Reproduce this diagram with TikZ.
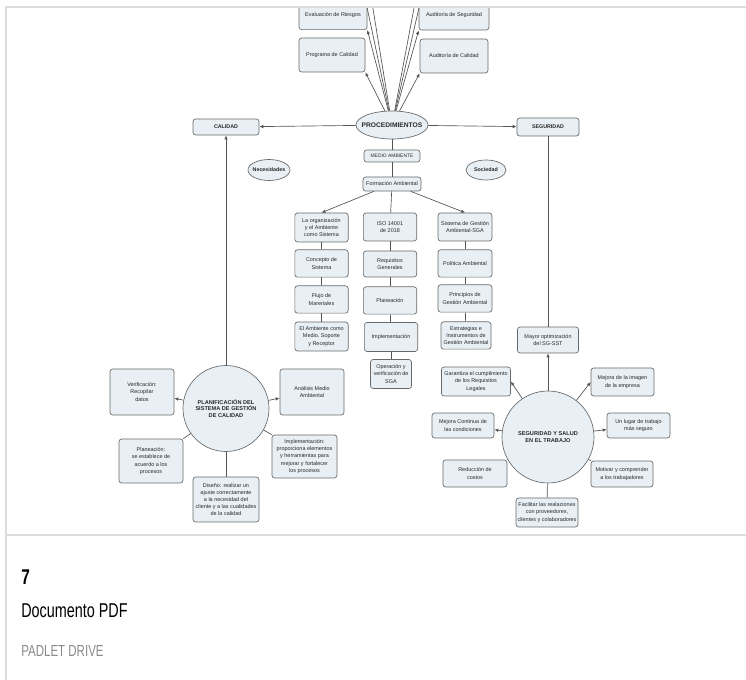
\documentclass[tikz,border=0pt]{standalone}
\usepackage{fontspec}
\setmainfont{Liberation Sans}
\newfontfamily\cardfont[FakeStretch=0.72]{Liberation Sans}
\usetikzlibrary{arrows.meta,shapes.geometric}
\definecolor{boxfill}{RGB}{233,240,245}
\definecolor{edge}{RGB}{105,105,105}
\definecolor{wire}{RGB}{85,85,85}
\definecolor{txt}{RGB}{40,40,40}
\definecolor{cardline}{RGB}{220,220,220}
\definecolor{subtle}{RGB}{140,140,140}

\begin{document}
\begin{tikzpicture}[x=0.75pt,y=-0.75pt,
  every node/.style={inner sep=0.5pt,text=txt},
  box/.style={draw=edge,fill=boxfill,rounded corners=2pt,align=center,line width=0.5pt,
    font=\fontsize{4.1}{5.4}\selectfont},
  colbox/.style={box,minimum width=40pt,minimum height=20.5pt},
  oval/.style={ellipse,draw=edge,fill=boxfill,line width=0.5pt,inner xsep=-1.5pt,
    font=\bfseries\fontsize{4}{5}\selectfont},
  hub/.style={circle,draw=edge,fill=boxfill,align=center,line width=0.5pt,
    font=\bfseries\fontsize{4.2}{5.2}\selectfont},
  link/.style={draw=wire,line width=0.5pt},
  arr/.style={link,-{Latex[length=3pt,width=2.6pt]}}]
\useasboundingbox (0,0) rectangle (746,680);
\fill[white] (0,0) rectangle (746,680);

\begin{scope}
\clip (6,8) rectangle (746,534);
\node[box,minimum width=51pt,minimum height=22pt] (evalr) at (333,15) {Evaluación de Riesgos};
\node[box,minimum width=52.5pt,minimum height=22.5pt] (audseg) at (454,15) {Auditoría de Seguridad};
\node[box,minimum width=49.5pt,minimum height=25.5pt] (progcal) at (332,55) {Programa de Calidad};
\node[box,minimum width=51pt,minimum height=25.5pt] (audcal) at (454,56) {Auditoría de Calidad};
\coordinate (upA) at (357,-40);
\coordinate (upB) at (365,-40);
\coordinate (upC) at (423,-40);
\coordinate (upD) at (430,-40);

\node[oval,minimum width=54pt,minimum height=21pt,inner xsep=-4pt,
  font=\bfseries\fontsize{5}{6}\selectfont] (procs) at (392,125) {PROCEDIMIENTOS};
\node[box,font=\bfseries\fontsize{4}{5}\selectfont,minimum width=49.5pt,minimum height=12pt] (calidad) at (226,127) {CALIDAD};
\node[box,font=\bfseries\fontsize{4}{5}\selectfont,minimum width=46.5pt,minimum height=13.5pt] (seguridad) at (548,127) {SEGURIDAD};
\node[box,font=\fontsize{3.7}{5}\selectfont,minimum width=42pt,minimum height=9pt] (medio) at (392,156) {MEDIO AMBIENTE};
\node[box,minimum width=43.5pt,minimum height=10.5pt] (formacion) at (392,184) {Formación Ambiental};
\node[oval,minimum width=31.5pt,minimum height=15.75pt] (necesidades) at (269,170) {Necesidades};
\node[oval,minimum width=30pt,minimum height=15pt] (sociedad) at (486,170) {Sociedad};

\node[colbox,minimum height=21.75pt] (org) at (321.5,227.5) {La organización\\y el Ambiente\\como Sistema};
\node[colbox] (concepto) at (321.5,263.5) {Concepto de\\Sistema};
\node[colbox] (flujo) at (321.5,299.5) {Flujo de\\Mareriales};
\node[colbox,minimum height=21.75pt] (ambiente) at (321.5,336.5) {El Ambiente como\\Medio, Soporte\\y Receptor};

\node[colbox,minimum height=21pt] (iso) at (390,227) {ISO 14001\\de 2018};
\node[colbox,minimum height=19.5pt] (requisitos) at (390,264) {Requisitos\\Generales};
\node[colbox] (planea) at (390,300.5) {Planeación};
\node[colbox,minimum height=21.75pt] (implem) at (391,337) {Implementación};
\node[box,minimum width=30.75pt,minimum height=21.75pt] (opera) at (391,374) {Operación y\\verificación de\\SGA};

\node[colbox,minimum width=40.5pt,minimum height=21pt] (sga) at (465,227) {Sistema de Gestión\\Ambiental-SGA};
\node[colbox,minimum width=40.5pt] (politica) at (465,263.5) {Política Ambiental};
\node[colbox,minimum width=40.5pt] (principios) at (465,298.5) {Principios de\\Gestión Ambiental};
\node[colbox,minimum width=37.5pt] (estrategias) at (466,335.5) {Estrategias e\\Instrumentos de\\Gestión Ambiental};

\node[box,minimum width=45.75pt,minimum height=19.5pt] (mayor) at (548,340) {Mayor optimización\\del SG-SST};

\node[hub,minimum size=64.5pt] (planif) at (226,408.5) {PLANIFICACIÓN DEL\\SISTEMA DE GESTIÓN\\DE CALIDAD};
\node[box,minimum width=48pt,minimum height=34.5pt] (verif) at (142,392) {Verificación:\\Recopilar\\datos};
\node[box,minimum width=48pt,minimum height=34.5pt] (analisis) at (312,392) {Análisis Medio\\Ambiental};
\node[box,minimum width=48pt,minimum height=33pt] (planeacion) at (151,461) {Planeación:\\se establece de\\acuerdo a los\\procesos};
\node[box,minimum width=48.75pt,minimum height=32.25pt] (implem2) at (304.5,456.5) {Implementación:\\proporciona elementos\\y herramientas para\\mejorar y fortalecer\\los procesos};
\node[box,minimum width=49.5pt,minimum height=33.75pt] (diseno) at (226,499.5) {Diseño: realizar un\\ajuste correctamente\\a la necesidad del\\cliente y a las cualidades\\de la calidad};

\node[hub,minimum size=69pt] (segsal) at (548,437) {SEGURIDAD Y SALUD\\EN EL TRABAJO};
\node[box,minimum width=51.75pt,minimum height=21.75pt] (garantiza) at (476,381.5) {Garantiza el cumplimiento\\de los Requisitos\\Legales};
\node[box,minimum width=47.25pt,minimum height=21pt] (mejimg) at (622.5,382) {Mejora de la imagen\\de la empresa};
\node[box,minimum width=46.5pt,minimum height=18.75pt] (mejcont) at (463,425.5) {Mejora Continua de\\las condiciones};
\node[box,minimum width=47.25pt,minimum height=18.75pt] (lugar) at (638.5,425.5) {Un lugar de trabajo\\más seguro};
\node[box,minimum width=48pt,minimum height=20.25pt] (reduccion) at (475,473.5) {Reducción de\\costos};
\node[box,minimum width=46.5pt,minimum height=19.5pt] (motivar) at (622,474) {Motivar y comprender\\a los trabajadores};
\node[box,minimum width=46.5pt,minimum height=21.75pt] (facilitar) at (547,512.5) {Facilitar las realaciones\\con proveedores,\\clientes y colaboradores};

\draw[arr] (procs) -- (progcal.south east);
\draw[arr] (procs) -- (evalr.south east);
\draw[arr] (procs) -- (audseg.south west);
\draw[arr] (procs) -- (audcal.south west);
\draw[link] (procs) -- (upA);
\draw[link] (procs) -- (upB);
\draw[link] (procs) -- (upC);
\draw[link] (procs) -- (upD);
\draw[arr] (procs) -- (calidad);
\draw[arr] (procs) -- (seguridad);
\draw[link] (procs) -- (medio);
\draw[link] (medio) -- (formacion);
\draw[arr] (formacion) -- (org.north);
\draw[link] (formacion) -- (iso);
\draw[arr] (formacion) -- (sga.north);
\draw[link] (org) -- (concepto);
\draw[link] (concepto) -- (flujo);
\draw[link] (flujo) -- (ambiente);
\draw[link] (iso) -- (requisitos);
\draw[link] (requisitos) -- (planea);
\draw[link] (planea) -- (implem);
\draw[link] (implem) -- (opera);
\draw[link] (sga) -- (politica);
\draw[link] (politica) -- (principios);
\draw[link] (principios) -- (estrategias);
\draw[link] (seguridad) -- (mayor);
\draw[arr] (segsal) -- (mayor);
\draw[arr] (planif) -- (calidad);
\draw[arr] (planif) -- (verif);
\draw[arr] (planif) -- (analisis);
\draw[link] (planif) -- (planeacion.north east);
\draw[link] (planif) -- (implem2.north west);
\draw[link] (planif) -- (diseno);
\draw[arr] (segsal) -- (garantiza.east);
\draw[arr] (segsal) -- (mejimg.west);
\draw[arr] (segsal) -- (mejcont);
\draw[arr] (segsal) -- (lugar);
\draw[link] (segsal) -- (reduccion.north east);
\draw[link] (segsal) -- (motivar.north west);
\draw[link] (segsal) -- (facilitar);
\end{scope}

\draw[cardline,line width=1.5pt] (6,680) -- (6,7) -- (746,7);
\draw[cardline,line width=1.5pt] (6,535) -- (746,535);
\node[anchor=base west,inner sep=0pt,text=black,font=\cardfont\bfseries\fontsize{16}{18}\selectfont] (num) at (21,584) {7};
\node[anchor=base west,inner sep=0pt,text=black,font=\cardfont\fontsize{15}{18}\selectfont] (tipo) at (21,617) {Documento PDF};
\node[anchor=base west,inner sep=0pt,text=subtle,font=\cardfont\fontsize{12}{14}\selectfont] (origen) at (21,656) {PADLET DRIVE};
\end{tikzpicture}
\end{document}
